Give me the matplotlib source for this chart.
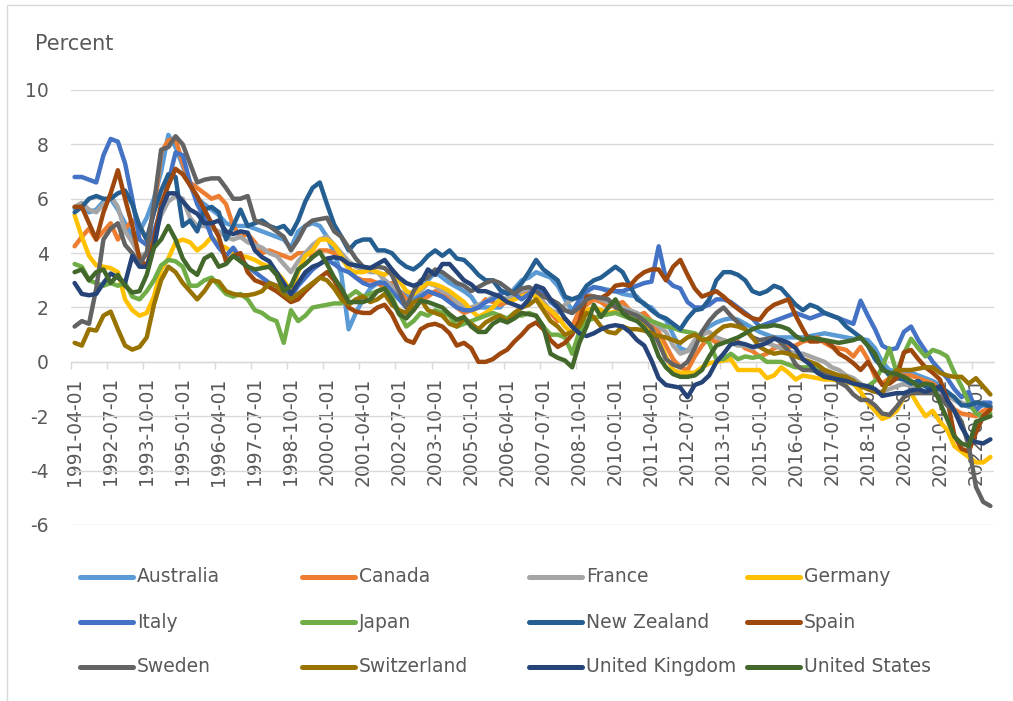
import matplotlib
matplotlib.use("Agg")
import matplotlib.pyplot as plt
from matplotlib.lines import Line2D
from matplotlib.patches import Rectangle
import numpy as np
import pandas as pd

plt.rcParams["axes.unicode_minus"] = False

# quarterly observations, 1991-04-01 .. 2023-01-01 (percent)
quarters = pd.date_range("1991-04-01", periods=128, freq="3MS")

australia = [
    5.65, 5.8, 5.5, 5.6, 5.9, 6.0, 5.6, 5.1, 4.6, 4.8,
    5.3, 6.0, 7.0, 8.35, 7.9, 7.2, 6.5, 6.0, 5.8, 5.6,
    5.4, 5.1, 5.0, 5.0, 5.0, 4.9, 4.8, 4.7, 4.6, 4.5,
    4.2, 4.8, 5.0, 5.1, 5.0, 4.6, 4.0, 3.2, 1.2, 1.8,
    2.3, 2.7, 2.9, 3.0, 2.8, 2.6, 2.45, 2.3, 2.6, 3.0,
    3.3, 3.1, 2.9, 2.75, 2.6, 2.4, 2.0, 2.0, 2.0, 2.0,
    2.3, 2.7, 3.0, 3.1, 3.3, 3.2, 3.1, 2.8, 2.3, 1.9,
    2.2, 2.6, 2.75, 2.7, 2.65, 2.6, 2.5, 2.45, 2.4, 2.1,
    2.0, 1.7, 1.55, 1.0, 0.5, 0.4, 0.7, 1.1, 1.3, 1.45,
    1.55, 1.6, 1.55, 1.4, 1.25, 1.1, 1.0, 0.9, 0.9, 0.9,
    0.9, 0.9, 0.95, 1.0, 1.05, 1.0, 0.95, 0.9, 0.85, 0.85,
    0.8, 0.5, 0.0, -0.3, -0.35, -0.35, -0.4, -0.5, -0.6, -0.7,
    -0.85, -1.1, -1.4, -1.55, -1.65, -1.7, -1.6, -1.65]

canada = [
    4.25, 4.6, 4.9, 4.5, 4.8, 5.1, 4.5, 4.9, 5.2, 5.0,
    4.5, 5.5, 7.7, 8.15, 8.2, 7.3, 6.6, 6.4, 6.2, 6.0,
    6.1, 5.8, 5.0, 4.6, 4.7, 4.4, 4.0, 4.1, 4.0, 3.9,
    3.8, 4.0, 4.0, 3.9, 4.1, 4.1, 4.0, 3.8, 3.5, 3.1,
    3.0, 3.0, 2.9, 2.7, 2.9, 2.6, 2.3, 1.9, 2.3, 2.4,
    2.6, 2.5, 2.3, 2.0, 1.8, 1.9, 2.0, 2.3, 2.2, 2.1,
    2.2, 2.4, 2.5, 2.6, 2.4, 2.2, 1.8, 1.5, 1.6, 1.3,
    1.9, 2.1, 2.3, 2.2, 2.0, 2.1, 2.2, 1.9, 1.7, 1.8,
    1.5, 1.1, 0.6, 0.1, -0.2, -0.3, 0.2, 0.6, 0.9, 0.7,
    0.8, 0.7, 0.75, 0.5, 0.4, 0.2, 0.3, 0.5, 0.6, 0.55,
    0.6, 0.75, 0.8, 0.9, 0.7, 0.55, 0.5, 0.44, 0.2, 0.55,
    0.1, -0.55, -0.8, -0.6, -0.4, -0.5, -0.5, -0.6, -0.7, -0.8,
    -1.0, -1.4, -1.75, -1.9, -1.95, -2.0, -1.8, -1.7]

france = [
    5.7, 5.85, 5.6, 5.5, 5.8, 6.1, 5.7, 4.8, 4.4, 3.9,
    4.0, 4.6, 5.4, 5.9, 6.1, 6.0, 5.3, 5.0, 5.0, 4.9,
    4.8, 4.6, 4.5, 4.6, 4.4, 4.3, 4.2, 4.0, 3.9, 3.6,
    3.3, 3.7, 4.0, 4.3, 4.5, 4.6, 4.3, 4.0, 3.7, 3.5,
    3.4, 3.3, 3.3, 3.0, 2.8, 2.5, 2.1, 2.5, 2.6, 2.9,
    2.8, 2.6, 2.5, 2.2, 2.0, 2.0, 2.1, 2.2, 2.4, 2.4,
    2.3, 2.5, 2.6, 2.7, 2.5, 2.2, 1.9, 1.8, 2.1, 2.3,
    2.4, 2.5, 2.4, 2.3, 2.2, 2.1, 2.0, 1.9, 1.8, 1.6,
    1.5, 1.3, 1.1, 0.6, 0.3, 0.4, 0.8, 1.0, 1.1, 0.9,
    0.8, 0.7, 0.6, 0.6, 0.5, 0.6, 0.7, 0.6, 0.5, 0.4,
    0.3, 0.3, 0.2, 0.1, 0.0, -0.2, -0.3, -0.5, -0.6, -0.8,
    -1.0, -1.1, -1.1, -1.0, -0.9, -0.8, -0.9, -0.8, -0.9, -1.0,
    -1.1, -1.2, -1.4, -1.5, -1.6, -1.55, -1.5, -1.6]

germany = [
    5.4, 4.6, 3.9, 3.55, 3.5, 3.45, 3.3, 2.3, 1.9, 1.7,
    1.8, 2.4, 3.4, 3.8, 4.4, 4.5, 4.4, 4.1, 4.3, 4.6,
    4.3, 4.2, 4.0, 3.9, 3.85, 3.75, 3.6, 3.5, 3.3, 3.0,
    2.6, 3.3, 3.9, 4.1, 4.5, 4.5, 4.3, 3.9, 3.4, 3.3,
    3.3, 3.4, 3.3, 3.2, 3.4, 3.0, 2.6, 2.5, 2.7, 2.9,
    2.85, 2.75, 2.6, 2.4, 2.2, 1.9, 1.65, 1.8, 2.0, 2.3,
    2.2, 2.3, 2.4, 2.5, 2.4, 2.1, 1.9, 1.65, 1.3, 1.05,
    1.5, 1.9, 2.0, 1.9, 1.8, 1.85, 1.8, 1.7, 1.55, 1.4,
    1.1, 0.8, 0.2, -0.3, -0.4, -0.4, -0.4, -0.2, -0.05, 0.0,
    0.05, 0.1, -0.3, -0.3, -0.3, -0.3, -0.6, -0.5, -0.2, -0.4,
    -0.65, -0.5, -0.55, -0.6, -0.65, -0.65, -0.7, -0.75, -0.8, -1.1,
    -1.5, -1.8, -2.1, -2.0, -1.8, -1.3, -1.15, -1.6, -2.0, -1.8,
    -2.2, -2.5, -3.1, -3.3, -3.5, -3.7, -3.7, -3.5]

italy = [
    6.8, 6.8, 6.7, 6.6, 7.6, 8.2, 8.1, 7.3, 6.0, 4.5,
    4.3, 4.8, 5.6, 6.6, 7.7, 7.6, 6.6, 5.8, 5.3, 4.6,
    4.2, 3.9, 4.2, 3.8, 3.5, 3.3, 3.1, 2.9, 2.8, 2.6,
    2.4, 2.8, 3.1, 3.4, 3.6, 3.75, 3.6, 3.4, 3.3, 3.1,
    2.9, 2.8, 2.9, 2.9, 2.6, 2.3, 2.0, 2.2, 2.4, 2.6,
    2.5, 2.4, 2.2, 2.0, 1.9, 1.9, 2.0, 2.2, 2.3, 2.5,
    2.6, 2.5, 2.3, 2.5, 2.7, 2.6, 2.2, 2.0, 1.9, 1.8,
    2.3, 2.6, 2.75, 2.7, 2.6, 2.6, 2.6, 2.7, 2.8, 2.9,
    2.95, 4.25, 3.05, 2.8, 2.7, 2.2, 2.0, 2.0, 2.1, 2.3,
    2.3, 2.2, 2.0, 1.8, 1.6, 1.3, 1.4, 1.5, 1.6, 1.7,
    1.8, 1.7, 1.6, 1.7, 1.8, 1.7, 1.6, 1.5, 1.4, 2.25,
    1.7, 1.2, 0.6, 0.45, 0.5, 1.1, 1.3, 0.8, 0.4, 0.0,
    -0.3, -0.6, -1.0, -1.3, -1.1, -1.8, -1.5, -1.5]

japan = [
    3.6, 3.5, 3.0, 2.9, 2.8, 2.9, 2.8, 2.9, 2.4, 2.3,
    2.6, 3.0, 3.55, 3.75, 3.7, 3.5, 2.8, 2.8, 3.0, 3.1,
    2.8, 2.5, 2.4, 2.5, 2.3, 1.9, 1.8, 1.6, 1.5, 0.7,
    1.9, 1.5, 1.7, 2.0, 2.05, 2.1, 2.15, 2.15, 2.4, 2.6,
    2.4, 2.5, 2.6, 2.7, 2.4, 1.8, 1.3, 1.5, 1.8, 1.7,
    1.9, 1.8, 1.7, 1.3, 1.4, 1.5, 1.6, 1.7, 1.8, 1.7,
    1.6, 1.8, 1.7, 1.8, 1.7, 1.3, 1.0, 1.0, 0.9, 0.3,
    1.1, 1.5, 1.6, 1.7, 1.75, 1.8, 1.7, 1.6, 1.7, 1.6,
    1.5, 1.4, 1.3, 1.25, 1.15, 1.1, 1.05, 0.9, 0.7, 0.1,
    0.1, 0.3, 0.1, 0.2, 0.15, 0.2, 0.0, 0.0, 0.0, -0.1,
    -0.2, -0.2, -0.2, -0.2, -0.3, -0.45, -0.55, -0.65, -0.8, -0.85,
    -0.9, -0.7, -0.2, 0.5, -0.4, 0.3, 0.85, 0.5, 0.2, 0.44,
    0.35, 0.2, -0.4, -0.9, -1.5, -1.9, -2.0, -1.9]

new_zealand = [
    5.5, 5.7, 6.0, 6.1, 6.0, 6.0, 6.2, 6.3, 5.8, 5.0,
    4.5, 5.5, 6.3, 6.9, 6.8, 5.0, 5.2, 4.8, 5.6, 5.7,
    5.5, 4.5, 5.0, 5.6, 5.0, 5.1, 5.2, 5.0, 4.9, 5.0,
    4.7, 5.2, 5.9, 6.4, 6.6, 5.8, 5.05, 4.6, 4.1, 4.4,
    4.5, 4.5, 4.1, 4.1, 4.0, 3.7, 3.5, 3.4, 3.6, 3.9,
    4.1, 3.9, 4.1, 3.8, 3.75, 3.5, 3.2, 3.0, 3.0, 2.65,
    2.5, 2.6, 2.9, 3.3, 3.75, 3.4, 3.2, 3.0, 2.4, 2.3,
    2.4, 2.8, 3.0, 3.1, 3.3, 3.5, 3.3, 2.8, 2.3, 2.15,
    1.9, 1.7, 1.6, 1.4, 1.2, 1.6, 1.9, 1.95, 2.3, 3.0,
    3.3, 3.3, 3.2, 3.0, 2.6, 2.5, 2.6, 2.8, 2.7, 2.4,
    2.1, 1.9, 2.1, 2.0, 1.8, 1.7, 1.6, 1.3, 1.1, 0.9,
    0.6, 0.1, -0.2, -0.5, -0.6, -0.65, -0.8, -0.7, -0.9, -1.0,
    -1.0, -1.1, -1.3, -1.6, -1.6, -1.5, -1.55, -1.65]

spain = [
    5.7, 5.7, 5.1, 4.5, 5.5, 6.2, 7.05, 6.0, 5.0, 3.8,
    3.5, 4.5, 5.8, 6.5, 7.1, 6.9, 6.5, 6.1, 5.6, 5.1,
    4.6, 3.7, 3.9, 4.0, 3.3, 3.0, 2.9, 2.75, 2.6, 2.4,
    2.2, 2.3, 2.6, 2.85, 3.1, 3.3, 3.0, 2.5, 2.0, 1.85,
    1.8, 1.8, 2.0, 2.1, 1.75, 1.2, 0.8, 0.7, 1.2, 1.35,
    1.4, 1.3, 1.05, 0.6, 0.7, 0.5, 0.0, 0.0, 0.1, 0.3,
    0.45, 0.75, 1.0, 1.3, 1.45, 1.2, 0.8, 0.55, 0.7, 1.0,
    1.5, 2.4, 2.4, 2.35, 2.5, 2.8, 2.85, 2.8, 3.1, 3.3,
    3.4, 3.4, 3.0, 3.5, 3.75, 3.2, 2.7, 2.4, 2.5, 2.6,
    2.4, 2.15, 1.95, 1.75, 1.6, 1.55, 1.9, 2.1, 2.2, 2.3,
    1.7, 1.2, 0.75, 0.75, 0.8, 0.6, 0.3, 0.15, -0.05, -0.3,
    0.0, -0.4, -0.85, -0.8, -0.6, 0.35, 0.44, 0.1, -0.2, -0.4,
    -0.65, -1.35, -2.7, -3.2, -3.3, -2.6, -2.0, -1.75]

sweden = [
    1.3, 1.5, 1.4, 2.7, 4.5, 4.9, 5.1, 4.3, 4.0, 3.6,
    4.0, 5.8, 7.8, 7.9, 8.3, 8.0, 7.3, 6.6, 6.7, 6.75,
    6.75, 6.4, 6.0, 6.0, 6.1, 5.2, 5.1, 5.0, 4.8, 4.6,
    4.1, 4.5, 5.0, 5.2, 5.25, 5.3, 4.8, 4.6, 4.2, 3.8,
    3.5, 3.45, 3.5, 3.45, 3.2, 2.6, 2.0, 2.6, 3.0, 3.1,
    3.4, 3.3, 3.1, 2.9, 2.8, 2.6, 2.75, 2.9, 3.0, 2.9,
    2.7, 2.5, 2.7, 2.75, 2.6, 2.4, 2.3, 2.15, 1.9, 1.8,
    2.0, 2.3, 2.4, 2.35, 2.3, 2.0, 1.9, 1.8, 1.7, 1.5,
    1.25, 0.7, 0.1, -0.1, -0.2, 0.0, 0.5, 1.1, 1.5, 1.8,
    2.0, 1.7, 1.45, 1.2, 0.9, 0.8, 0.85, 0.9, 0.7, 0.4,
    -0.1, -0.3, -0.3, -0.35, -0.4, -0.5, -0.75, -0.9, -1.2, -1.4,
    -1.4, -1.6, -1.9, -1.95, -1.65, -1.3, -1.15, -1.15, -1.15, -1.15,
    -1.3, -1.6, -1.8, -2.2, -3.1, -4.6, -5.15, -5.3]

switzerland = [
    0.7, 0.6, 1.2, 1.15, 1.7, 1.85, 1.2, 0.6, 0.45, 0.55,
    0.9, 2.1, 3.0, 3.5, 3.3, 2.9, 2.6, 2.3, 2.6, 3.0,
    2.95, 2.6, 2.5, 2.45, 2.45, 2.5, 2.6, 2.9, 2.8, 2.5,
    2.3, 2.5, 2.7, 2.9, 3.1, 3.0, 2.7, 2.3, 2.1, 2.3,
    2.4, 2.2, 2.3, 2.5, 2.1, 1.9, 1.8, 2.2, 2.3, 1.9,
    1.8, 1.7, 1.4, 1.3, 1.6, 1.4, 1.2, 1.45, 1.6, 1.7,
    1.5, 1.8, 2.0, 2.1, 2.3, 1.9, 1.5, 1.3, 1.0, 1.1,
    1.3, 1.8, 1.65, 1.3, 1.1, 1.05, 1.3, 1.2, 1.2, 1.15,
    1.05, 0.95, 0.9, 0.8, 0.7, 0.9, 1.0, 0.8, 0.85, 1.1,
    1.3, 1.35, 1.3, 1.2, 0.9, 0.55, 0.4, 0.3, 0.35, 0.3,
    0.2, 0.1, 0.0, -0.1, -0.3, -0.4, -0.5, -0.55, -0.7, -0.9,
    -1.0, -1.1, -1.15, -0.6, -0.3, -0.3, -0.3, -0.25, -0.2, -0.2,
    -0.4, -0.5, -0.55, -0.55, -0.8, -0.6, -0.9, -1.2]

united_kingdom = [
    2.9, 2.5, 2.45, 2.5, 2.9, 3.25, 3.1, 2.9, 3.9, 3.5,
    3.5, 4.2, 5.6, 6.2, 6.2, 5.9, 5.6, 5.45, 5.1, 5.1,
    5.2, 4.8, 4.7, 4.8, 4.75, 4.1, 3.85, 3.7, 3.3, 2.9,
    2.5, 2.9, 3.3, 3.5, 3.6, 3.8, 3.85, 3.8, 3.6, 3.55,
    3.5, 3.45, 3.6, 3.75, 3.4, 3.1, 2.9, 2.8, 2.9, 3.4,
    3.2, 3.6, 3.6, 3.3, 3.0, 2.85, 2.6, 2.6, 2.5, 2.4,
    2.2, 2.1, 2.0, 2.3, 2.8, 2.7, 2.3, 2.0, 1.6, 1.3,
    1.05, 0.95, 1.05, 1.2, 1.3, 1.35, 1.3, 1.1, 0.8, 0.6,
    0.05, -0.6, -0.85, -0.9, -0.95, -1.3, -0.85, -0.75, -0.5, 0.0,
    0.3, 0.65, 0.7, 0.65, 0.55, 0.6, 0.7, 0.85, 0.8, 0.7,
    0.5, 0.1, -0.1, -0.4, -0.55, -0.6, -0.65, -0.7, -0.8, -0.85,
    -0.9, -1.0, -1.25, -1.2, -1.15, -1.15, -1.05, -1.0, -1.1, -1.0,
    -0.9, -1.4, -1.8, -2.4, -2.85, -2.95, -3.0, -2.85]

united_states = [
    3.3, 3.4, 3.0, 3.3, 3.4, 2.9, 3.2, 2.8, 2.55, 2.6,
    3.2, 4.2, 4.5, 5.0, 4.5, 3.8, 3.4, 3.2, 3.8, 3.95,
    3.5, 3.6, 3.9, 3.7, 3.5, 3.4, 3.45, 3.5, 3.2, 2.6,
    2.8, 3.4, 3.6, 3.85, 4.05, 3.6, 3.1, 2.7, 2.2, 2.2,
    2.2, 2.3, 2.6, 2.7, 2.3, 1.75, 1.6, 1.9, 2.25, 2.2,
    2.1, 2.0, 1.75, 1.55, 1.65, 1.3, 1.1, 1.1, 1.4, 1.55,
    1.45, 1.6, 1.8, 1.75, 1.7, 1.3, 0.3, 0.15, 0.05, -0.2,
    0.7, 1.3, 2.1, 1.65, 2.0, 2.3, 1.8, 1.6, 1.5, 1.25,
    0.9, 0.2, -0.2, -0.45, -0.55, -0.55, -0.5, -0.3, 0.2, 0.6,
    0.7, 0.8, 0.9, 1.05, 1.2, 1.3, 1.3, 1.35, 1.3, 1.2,
    0.95, 0.8, 0.9, 0.85, 0.8, 0.75, 0.7, 0.75, 0.8, 0.9,
    0.6, 0.3, -0.3, -0.4, -0.45, -0.55, -0.7, -0.9, -0.8, -0.85,
    -1.5, -2.1, -2.75, -3.0, -3.1, -2.2, -2.1, -2.0]

countries = ["Australia", "Canada", "France", "Germany", "Italy", "Japan",
             "New Zealand", "Spain", "Sweden", "Switzerland",
             "United Kingdom", "United States"]
series = [australia, canada, france, germany, italy, japan, new_zealand,
          spain, sweden, switzerland, united_kingdom, united_states]
colors = ["#5B9BD5", "#ED7D31", "#A5A5A5", "#FFC000", "#4472C4", "#70AD47",
          "#255E91", "#9E480E", "#636363", "#997300", "#264478", "#43682B"]

for name, s in zip(countries, series):
    assert len(s) == len(quarters), (name, len(s))

TXT = "#595959"
GRID = "#D9D9D9"
W, H = 1013, 701

fig = plt.figure(figsize=(W / 100, H / 100), dpi=100)
ax = fig.add_axes([71 / W, 1 - 525 / H, (994 - 71) / W, (525 - 90) / H])

x = np.arange(len(quarters))
for name, s, c in zip(countries, series, colors):
    ax.plot(x, s, color=c, lw=3.2, solid_joinstyle="round",
            solid_capstyle="round", label=name, zorder=3)

ax.set_xlim(-0.5, len(quarters) - 0.5)
ax.set_ylim(-6, 10)
ax.set_yticks(range(-6, 11, 2))
ax.yaxis.grid(True, color=GRID, lw=1)
ax.set_axisbelow(True)

for side in ("left", "right", "top"):
    ax.spines[side].set_visible(False)
ax.spines["bottom"].set_position(("data", 0))
ax.spines["bottom"].set_color(GRID)
ax.spines["bottom"].set_linewidth(1)

# category labels every 5 quarters, tick marks on category borders
ax.set_xticks(x[::5])
ax.set_xticklabels(quarters[::5].strftime("%Y-%m-%d"), rotation=90)
ax.set_xticks(np.arange(-0.5, len(quarters), 5), minor=True)
ax.tick_params(axis="x", which="major", length=0, pad=11,
               labelsize=13.5, labelcolor=TXT)
ax.tick_params(axis="x", which="minor", length=5, width=1, color=GRID,
               direction="out")
ax.tick_params(axis="y", length=0, pad=16, labelsize=13.5, labelcolor=TXT)

fig.text(35 / W, 1 - 44 / H, "Percent", fontsize=15, color=TXT,
         ha="left", va="center")

# legend, 4 columns x 3 rows
col_x = [78, 300, 527, 745]
row_y = [577, 622, 667]
for k, (name, c) in enumerate(zip(countries, colors)):
    x0 = col_x[k % 4]
    y0 = 1 - row_y[k // 4] / H
    fig.add_artist(Line2D([(x0 + 2) / W, (x0 + 55) / W], [y0, y0],
                          transform=fig.transFigure, color=c, lw=3.6,
                          solid_capstyle="round"))
    fig.text((x0 + 59) / W, y0, name, fontsize=13.5, color=TXT,
             ha="left", va="center")

# chart border
fig.add_artist(Rectangle((7 / W, -0.05), 1.2, 1.05 - 5 / H,
                         transform=fig.transFigure, fill=False,
                         edgecolor=GRID, lw=1))

fig.savefig("out.png", dpi=100)
